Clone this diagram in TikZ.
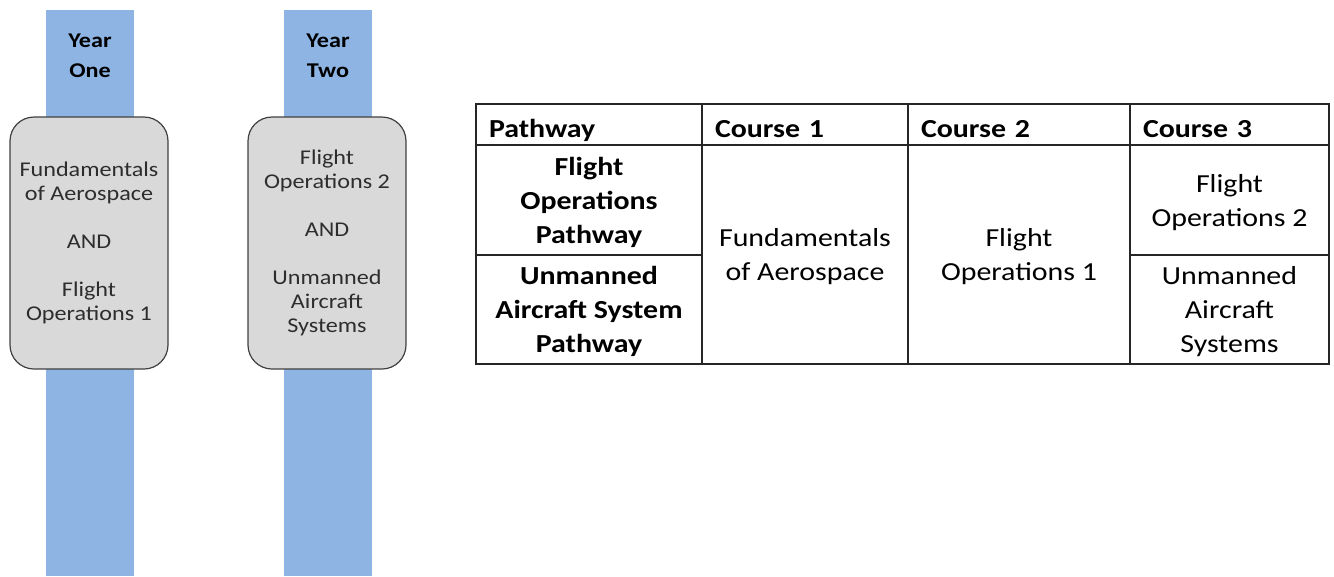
\documentclass[tikz,border=0pt]{standalone}
\usepackage{fontspec}
\setmainfont{Carlito}[FakeStretch=1.15]
\usetikzlibrary{positioning}
\usepackage{color}
\definecolor{barblue}{RGB}{142,180,227}
\definecolor{boxgray}{RGB}{217,217,217}
\definecolor{boxline}{RGB}{64,64,64}
\definecolor{boxtext}{RGB}{45,45,45}
\tikzstyle{yearbar} = [rectangle, fill=barblue, minimum width=88pt, minimum height=566pt, inner sep=0pt, anchor=north]
\tikzstyle{yearlabel} = [align=center, font=\fontsize{21}{30}\selectfont\bfseries]
\tikzstyle{yearbox} = [rectangle, rounded corners=24pt, minimum width=158pt, minimum height=252pt, align=center, draw=boxline, line width=1.2pt, fill=boxgray, text=boxtext, font=\fontsize{21}{24}\selectfont]
\tikzstyle{cell} = [rectangle, draw=black!85, line width=1.1pt, inner sep=0pt, outer sep=0pt, text depth=-16pt, align=center, font=\fontsize{26}{34}\selectfont]
\tikzstyle{headcell} = [cell, minimum height=41pt, text height=25pt, text depth=0pt, align=left, inner xsep=13pt, font=\fontsize{26}{34}\selectfont\bfseries]

\begin{document}
\begin{tikzpicture}[x=1pt, y=-1pt]
        \useasboundingbox (0,0) rectangle (1334,576);
        % Year columns
        \node (barOne) [yearbar] at (90,10) {};
        \node (barTwo) [yearbar] at (328,10) {};
        \node (labelOne) [yearlabel] at (90,56) {Year\\One};
        \node (labelTwo) [yearlabel] at (328,56) {Year\\Two};
        \node (boxOne) [yearbox] at (89,243) {Fundamentals\\of Aerospace\\[24pt]AND\\[24pt]Flight\\Operations 1};
        \node (boxTwo) [yearbox] at (327,243) {Flight\\Operations 2\\[24pt]AND\\[24pt]Unmanned\\Aircraft\\Systems};

        % Table header
        \node (pathHead) [headcell, anchor=north west, text width=200pt] at (476,104) {Pathway};
        \node (courseOneHead) [headcell, right=0pt of pathHead, text width=180pt] {Course 1};
        \node (courseTwoHead) [headcell, right=0pt of courseOneHead, text width=196pt] {Course 2};
        \node (courseThreeHead) [headcell, right=0pt of courseTwoHead, text width=173pt] {Course 3};

        % Table body
        \node (flightPath) [cell, below=0pt of pathHead, minimum width=226pt, minimum height=110pt, font=\fontsize{26}{34}\selectfont\bfseries] {Flight\\Operations\\Pathway};
        \node (uasPath) [cell, below=0pt of flightPath, minimum width=226pt, minimum height=109pt, font=\fontsize{26}{34}\selectfont\bfseries] {Unmanned\\Aircraft System\\Pathway};
        \node (fundamentals) [cell, below=0pt of courseOneHead, minimum width=206pt, minimum height=219pt] {Fundamentals\\of Aerospace};
        \node (flightOpsOne) [cell, below=0pt of courseTwoHead, minimum width=222pt, minimum height=219pt] {Flight\\Operations 1};
        \node (flightOpsTwo) [cell, below=0pt of courseThreeHead, minimum width=199pt, minimum height=110pt] {Flight\\Operations 2};
        \node (uasCourse) [cell, below=0pt of flightOpsTwo, minimum width=199pt, minimum height=109pt] {Unmanned\\Aircraft\\Systems};
    \end{tikzpicture}
\end{document}
